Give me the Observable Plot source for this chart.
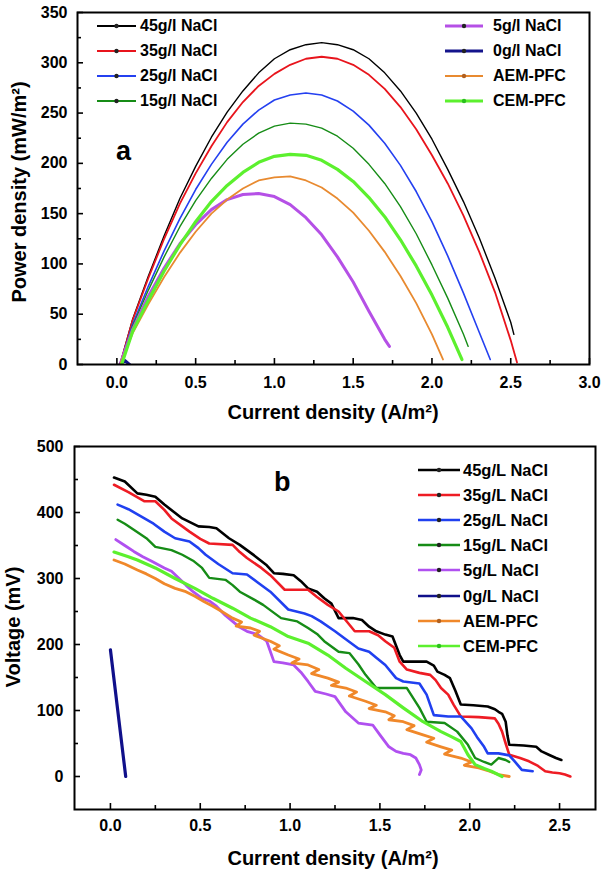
<!DOCTYPE html>
<html>
<head>
<meta charset="utf-8">
<script src="https://cdn.jsdelivr.net/npm/d3@7"></script>
<script src="https://cdn.jsdelivr.net/npm/@observablehq/plot@0.6"></script>
<style>
  html, body { margin: 0; padding: 0; background: #fff; }
  #wrap { position: relative; width: 603px; height: 874px; overflow: hidden; font-family: 'Liberation Sans', Arial, sans-serif; font-weight: bold; color: #000; }
  .abs { position: absolute; white-space: nowrap; }
  .ttl { font-size: 20px; line-height: 20px; text-align: center; }
  .leg { font-size: 16px; line-height: 16px; }
  .legb { font-size: 16.5px; line-height: 16px; }
  .tag { font-size: 27px; line-height: 27px; }
</style>
</head>
<body>
<div id="wrap">
  <div id="pa" class="abs" style="left:0;top:0"></div>
  <div id="pb" class="abs" style="left:0;top:425px"></div>
</div>
<script>
// ---------------- Panel a: power density vs current density ----------------
const aNames = ["45g/l NaCl", "35g/l NaCl", "25g/l NaCl", "15g/l NaCl", "5g/l NaCl", "0g/l NaCl", "AEM-PFC", "CEM-PFC"];
const colors = ["#000000", "#e8141c", "#2440f0", "#168c16", "#b550e6", "#14148c", "#e88a30", "#5cf02e"];

const a45x = [0.02,0.1,0.2,0.3,0.4,0.5,0.6,0.7,0.8,0.9,1.0,1.1,1.2,1.3,1.4,1.5,1.6,1.7,1.8,1.9,2.0,2.1,2.2,2.3,2.4,2.5,2.52];
const a45y = [0,45,88,128,165,197,226,251,272,290,304,313,318,320,318,313,304,290,272,250,224,194,162,126,86,42,30];
const a35x = [0.02,0.1,0.2,0.3,0.4,0.5,0.6,0.7,0.8,0.9,1.0,1.1,1.2,1.3,1.4,1.5,1.6,1.7,1.8,1.9,2.0,2.1,2.2,2.3,2.4,2.5,2.54];
const a35y = [0,44,86,125,160,190,217,241,261,277,289,298,304,306,304,298,288,274,256,234,208,180,148,112,72,24,2];
const a25x = [0.02,0.1,0.2,0.3,0.4,0.5,0.6,0.7,0.8,0.9,1.0,1.1,1.2,1.3,1.4,1.5,1.6,1.7,1.8,1.9,2.0,2.1,2.2,2.3,2.37];
const a25y = [0,40,78,113,145,174,199,221,239,253,263,268,270,268,262,252,238,220,198,172,142,108,71,32,5];
const a15x = [0.02,0.1,0.2,0.3,0.4,0.5,0.6,0.7,0.8,0.9,1.0,1.1,1.2,1.3,1.4,1.5,1.6,1.7,1.8,1.9,2.0,2.1,2.2,2.23];
const a15y = [0,38,74,107,137,163,185,204,219,230,237,240,239,235,227,215,199,180,157,130,99,66,30,18];
const a5x = [0.02,0.1,0.2,0.3,0.4,0.5,0.6,0.7,0.8,0.9,1.0,1.1,1.2,1.3,1.4,1.5,1.6,1.7,1.73];
const a5y = [0,35,68,96,120,139,154,164,169,170,167,159,146,129,107,82,53,25,18];
const a0x = [0.02,0.05,0.08];
const a0y = [0,4,0];
const aAEMx = [0.02,0.1,0.2,0.3,0.4,0.5,0.6,0.7,0.8,0.9,1.0,1.1,1.2,1.3,1.4,1.5,1.6,1.7,1.8,1.9,2.0,2.07];
const aAEMy = [0,31,60,87,111,132,150,164,175,183,186,187,183,176,165,151,133,112,88,61,30,5];
const aCEMx = [0.03,0.1,0.2,0.3,0.4,0.5,0.6,0.7,0.8,0.9,1.0,1.1,1.2,1.3,1.4,1.5,1.6,1.7,1.8,1.9,2.0,2.1,2.19];
const aCEMy = [0,33,64,93,119,142,162,178,191,201,207,209,208,203,194,182,166,147,124,98,69,37,5];

const aXTicks = [0,0.5,1.0,1.5,2.0,2.5,3.0];
const aXMinor = [0.25,0.75,1.25,1.75,2.25,2.75];
const aYTicks = [0,50,100,150,200,250,300,350];
const aYMinor = [25,75,125,175,225,275,325];

// ---------------- Panel b: voltage vs current density ----------------
const bNames = ["45g/L NaCl", "35g/L NaCl", "25g/L NaCl", "15g/L NaCl", "5g/L NaCl", "0g/L NaCl", "AEM-PFC", "CEM-PFC"];

const b45x = [0.02,0.08,0.15,0.2,0.25,0.3,0.4,0.49,0.55,0.59,0.66,0.72,0.8,0.87,0.91,0.96,1.02,1.06,1.10,1.15,1.19,1.23,1.27,1.35,1.40,1.44,1.48,1.53,1.57,1.61,1.63,1.70,1.76,1.80,1.82,1.86,1.89,1.92,1.95,2.02,2.10,2.14,2.16,2.18,2.20,2.21,2.22,2.30,2.37,2.40,2.44,2.48,2.51];
const b45y = [453,447,429,427,424,412,391,379,378,376,361,351,335,320,308,307,305,296,285,280,270,262,240,240,237,227,220,215,212,184,174,174,174,168,159,154,149,130,109,108,106,102,98,95,83,62,48,47,45,38,33,28,25];
const b35x = [0.02,0.1,0.19,0.25,0.3,0.34,0.44,0.5,0.55,0.68,0.72,0.76,0.84,0.89,0.97,1.04,1.10,1.15,1.21,1.27,1.36,1.44,1.49,1.53,1.58,1.61,1.65,1.72,1.78,1.81,1.84,1.88,1.91,1.95,2.05,2.14,2.16,2.18,2.20,2.22,2.28,2.33,2.38,2.42,2.46,2.50,2.53,2.56];
const b35y = [442,431,417,417,404,391,371,360,353,351,340,331,316,305,283,283,283,272,260,250,220,220,214,205,195,174,162,157,154,146,134,124,109,91,90,88,80,68,50,33,28,23,16,8,6,5,3,0];
const b25x = [0.04,0.1,0.17,0.24,0.30,0.36,0.44,0.49,0.53,0.6,0.68,0.76,0.82,0.89,0.99,1.08,1.12,1.17,1.25,1.31,1.38,1.44,1.48,1.53,1.59,1.63,1.72,1.76,1.80,1.88,1.95,2.01,2.04,2.08,2.10,2.16,2.22,2.25,2.29,2.35];
const b25y = [412,405,394,383,371,361,356,346,336,322,308,306,294,280,253,247,243,235,220,208,194,189,180,169,149,144,141,124,93,91,91,73,60,45,35,35,32,23,10,8];
const b15x = [0.04,0.08,0.13,0.2,0.25,0.34,0.40,0.46,0.51,0.55,0.64,0.68,0.72,0.8,0.85,0.95,1.04,1.10,1.15,1.19,1.27,1.33,1.38,1.42,1.48,1.56,1.65,1.72,1.76,1.86,1.93,1.99,2.03,2.08,2.12,2.16,2.20,2.22];
const b15y = [389,383,374,361,348,343,336,327,316,301,298,290,280,268,260,240,235,225,216,205,189,187,170,154,134,134,134,104,83,81,68,48,28,22,18,28,25,22];
const b5x = [0.03,0.08,0.13,0.18,0.23,0.3,0.34,0.42,0.46,0.51,0.55,0.59,0.64,0.68,0.72,0.76,0.82,0.87,0.91,0.96,1.02,1.06,1.10,1.14,1.20,1.25,1.31,1.38,1.46,1.50,1.55,1.59,1.63,1.67,1.70,1.72,1.73,1.72];
const b5y = [359,350,341,333,326,316,311,290,280,270,266,258,244,235,226,220,215,205,174,172,169,158,144,129,125,121,98,81,78,63,45,38,35,33,28,18,10,3];
const b0x = [0.0,0.085];
const b0y = [192,0];
const bAEMx = [0.02,0.08,0.15,0.2,0.25,0.3,0.36,0.42,0.47,0.52,0.57,0.62,0.68,0.73,0.70,0.78,0.83,0.80,0.89,0.94,0.91,0.99,1.05,1.01,1.10,1.16,1.12,1.21,1.27,1.23,1.31,1.37,1.33,1.42,1.48,1.44,1.53,1.58,1.55,1.63,1.69,1.65,1.74,1.80,1.76,1.84,1.90,1.86,1.95,2.01,1.97,2.05,2.11,2.16,2.22];
const bAEMy = [328,322,313,307,300,292,285,280,273,265,258,250,240,234,228,225,220,214,205,198,193,184,178,172,169,162,156,149,143,138,134,128,122,114,108,103,98,92,86,83,77,71,63,58,52,45,40,34,28,22,17,13,8,3,0];
const bCEMx = [0.02,0.1,0.15,0.25,0.36,0.47,0.57,0.68,0.78,0.89,0.99,1.10,1.21,1.31,1.42,1.53,1.63,1.74,1.84,1.90,1.95,1.99,2.03,2.08,2.12,2.18];
const bCEMy = [340,333,328,316,300,285,270,255,240,227,212,202,184,164,144,124,104,83,68,60,53,33,18,12,8,0];

const bXTicks = [0,0.5,1.0,1.5,2.0,2.5];
const bXMinor = [0.25,0.75,1.25,1.75,2.25];
const bYTicks = [0,100,200,300,400,500];
const bYMinor = [50,150,250,350,450];

// ---------------- helpers ----------------
const zip = (xs, ys) => xs.map((x, i) => ({x, y: ys[i]}));
const FONT = "'Liberation Sans', Arial, sans-serif";

function tickMarks(xMaj, xMin, yMaj, yMin, pw, ph) {
  return [
    Plot.tickX(xMaj, {x: d => d, insetTop: ph - 6, stroke: "#000", strokeWidth: 1.6}),
    Plot.tickX(xMin, {x: d => d, insetTop: ph - 4, stroke: "#000", strokeWidth: 1.6}),
    Plot.tickY(yMaj, {y: d => d, insetRight: pw - 6, stroke: "#000", strokeWidth: 1.6}),
    Plot.tickY(yMin, {y: d => d, insetRight: pw - 4, stroke: "#000", strokeWidth: 1.6})
  ];
}

// ---------------- panel a ----------------
const aSeries = [[a45x,a45y],[a35x,a35y],[a25x,a25y],[a15x,a15y],[a5x,a5y],[a0x,a0y],[aAEMx,aAEMy],[aCEMx,aCEMy]];
const aWidths = [1.4, 1.8, 1.6, 1.4, 3, 3, 1.8, 3.2];
const aM = {top: 12, right: 14, bottom: 61, left: 77};
const aH = 425, W = 603;
const aPW = W - aM.left - aM.right, aPH = aH - aM.top - aM.bottom;

const plotA = Plot.plot({
  width: W, height: aH,
  marginTop: aM.top, marginRight: aM.right, marginBottom: aM.bottom, marginLeft: aM.left,
  x: {domain: [-0.25, 3.0], label: null},
  y: {domain: [0, 350], label: null},
  style: {fontFamily: FONT, fontWeight: "bold", fontSize: "16px", color: "#000", background: "transparent", overflow: "visible"},
  marks: [
    ...aSeries.map((s, i) => Plot.line(zip(s[0], s[1]), {x: "x", y: "y", stroke: colors[i], strokeWidth: aWidths[i], clip: true})),
    ...tickMarks(aXTicks, aXMinor, aYTicks, aYMinor, aPW, aPH),
    Plot.frame({stroke: "#000", strokeWidth: 2}),
    Plot.axisX({ticks: aXTicks, tickSize: 0, tickPadding: 12, tickFormat: d3.format(".1f"), label: null}),
    Plot.axisY({ticks: aYTicks, tickSize: 0, tickPadding: 10, tickFormat: d3.format("d"), label: null})
  ]
});
document.getElementById("pa").appendChild(plotA);

// ---------------- panel b ----------------
const bSeries = [[b45x,b45y],[b35x,b35y],[b25x,b25y],[b15x,b15y],[b5x,b5y],[b0x,b0y],[bAEMx,bAEMy],[bCEMx,bCEMy]];
const bColors = ["#000000", "#ee1c24", "#2040f0", "#168c16", "#b050f0", "#10108a", "#f0882a", "#5cf02e"];
const bWidths = [2.6, 2.6, 2.6, 2.4, 2.8, 3.2, 2.8, 3.2];
const bM = {top: 21, right: 8, bottom: 65, left: 74};
const bH = 449;
const bPW = W - bM.left - bM.right, bPH = bH - bM.top - bM.bottom;

const plotB = Plot.plot({
  width: W, height: bH,
  marginTop: bM.top, marginRight: bM.right, marginBottom: bM.bottom, marginLeft: bM.left,
  x: {domain: [-0.2, 2.7], label: null},
  y: {domain: [-50, 500], label: null},
  style: {fontFamily: FONT, fontWeight: "bold", fontSize: "16px", color: "#000", background: "transparent", overflow: "visible"},
  marks: [
    ...bSeries.map((s, i) => Plot.line(zip(s[0], s[1]), {x: "x", y: "y", stroke: bColors[i], strokeWidth: bWidths[i], strokeLinejoin: "round", clip: true})),
    ...tickMarks(bXTicks, bXMinor, bYTicks, bYMinor, bPW, bPH),
    Plot.frame({stroke: "#000", strokeWidth: 2}),
    Plot.axisX({ticks: bXTicks, tickSize: 0, tickPadding: 10, tickFormat: d3.format(".1f"), label: null}),
    Plot.axisY({ticks: bYTicks, tickSize: 0, tickPadding: 11, tickFormat: d3.format("d"), label: null})
  ]
});
document.getElementById("pb").appendChild(plotB);

// ---------------- overlays: titles, tags, legends ----------------
const wrap = document.getElementById("wrap");
function addText(txt, cls, left, top, extra) {
  const d = document.createElement("div");
  d.className = "abs " + cls;
  d.style.left = left + "px";
  d.style.top = top + "px";
  if (extra) Object.assign(d.style, extra);
  d.textContent = txt;
  wrap.appendChild(d);
  return d;
}
// axis titles
addText("Current density (A/m²)", "ttl", 183, 402, {width: "300px"});
addText("Current density (A/m²)", "ttl", 183, 848, {width: "300px"});
addText("Power density (mW/m²)", "ttl", 18.5 - 150, 192 - 10, {width: "300px", transform: "rotate(-90deg)"});
addText("Voltage (mV)", "ttl", 12.5 - 100, 627 - 10, {width: "200px", transform: "rotate(-90deg)"});
// panel tags
addText("a", "tag", 116, 138);
addText("b", "tag", 274, 469);

// legend helper: line sample (svg) + label
function legendRow(label, color, sw, x1, x2, tx, cy, cls) {
  const ns = "http://www.w3.org/2000/svg";
  const svg = document.createElementNS(ns, "svg");
  svg.setAttribute("width", x2 - x1 + 4);
  svg.setAttribute("height", 10);
  svg.style.position = "absolute";
  svg.style.left = (x1 - 2) + "px";
  svg.style.top = (cy - 5) + "px";
  const ln = document.createElementNS(ns, "line");
  ln.setAttribute("x1", 2); ln.setAttribute("x2", x2 - x1 + 2);
  ln.setAttribute("y1", 5); ln.setAttribute("y2", 5);
  ln.setAttribute("stroke", color); ln.setAttribute("stroke-width", sw);
  svg.appendChild(ln);
  const c = document.createElementNS(ns, "circle");
  c.setAttribute("cx", (x2 - x1) / 2 + 2); c.setAttribute("cy", 5); c.setAttribute("r", 2.2);
  c.setAttribute("fill", color === "#5cf02e" ? "#2cc01e" : (color === "#e88a30" || color === "#f0882a" ? "#b06020" : "#222"));
  svg.appendChild(c);
  wrap.appendChild(svg);
  addText(label, cls, tx, cy - 8);
}
const aLegY = [26, 51, 76, 101];
for (let i = 0; i < 4; i++) legendRow(aNames[i], colors[i], aWidths[i] < 2 ? 1.8 : aWidths[i], 97, 136, 140, aLegY[i], "leg");
for (let i = 4; i < 8; i++) legendRow(aNames[i], colors[i], aWidths[i] < 2 ? 1.8 : aWidths[i], 445, 483, 493, aLegY[i - 4], "leg");
const bLegY = [470, 495, 520, 545, 570, 596, 621, 646];
for (let i = 0; i < 8; i++) legendRow(bNames[i], bColors[i], 2.6, 418, 460, 463, bLegY[i], "legb");
</script>
</body>
</html>
